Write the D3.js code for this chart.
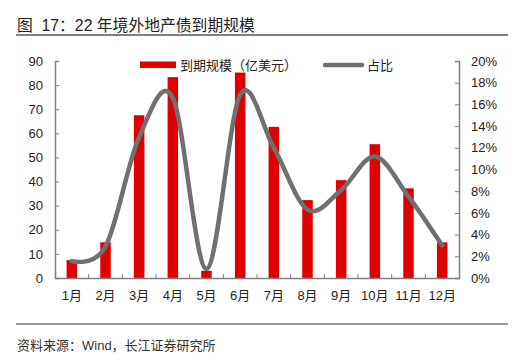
<!DOCTYPE html>
<html><head><meta charset="utf-8">
<script src="https://cdn.jsdelivr.net/npm/d3@7"></script>
<style>body{margin:0;background:#fff}svg{display:block}text{font-family:"Liberation Sans","Noto Sans CJK SC",sans-serif}</style>
</head><body><svg id="c" width="527" height="360"></svg>
<script>
const months = ["1月","2月","3月","4月","5月","6月","7月","8月","9月","10月","11月","12月"];
const volume = [7.4,14.8,67.5,83.3,3.0,85.2,62.7,32.3,40.6,55.5,37.2,14.8];
const ratio = [1.55,2.9,13.0,16.6,0.85,16.9,12.0,6.3,8.1,11.2,7.5,3.0];
const leftTicks = [0,10,20,30,40,50,60,70,80,90];
const rightTicks = [0,2,4,6,8,10,12,14,16,18,20];

const svg = d3.select("#c");
const L=55,R=459,T=61,B=278;
const x = d3.scaleBand().domain(months).range([L,R]);
const yL = d3.scaleLinear().domain([0,90]).range([B,T]);
const yR = d3.scaleLinear().domain([0,20]).range([B,T]);
const axisColor="#808080";
const cjk='"Noto Sans CJK SC",sans-serif';

// title
const title = svg.append("text").attr("y",31).attr("font-size",15.8).attr("fill","#222");
title.append("tspan").attr("x",17).style("font-family",cjk).text("图");
title.append("tspan").attr("x",41.5).text("17：22 年境外地产债到期规模");
svg.append("line").attr("x1",16).attr("x2",508).attr("y1",35).attr("y2",35).attr("stroke","#555").attr("stroke-width",1.5);
svg.append("line").attr("x1",16).attr("x2",508).attr("y1",324).attr("y2",324).attr("stroke","#777").attr("stroke-width",1.5);
svg.append("text").attr("x",17).attr("y",350).attr("font-size",13).attr("fill","#333")
  .text("资料来源：Wind，长江证券研究所");

// bars
const bw = 10.5;
svg.append("g").selectAll("rect").data(volume).join("rect")
  .attr("x",(d,i)=>x(months[i])+x.bandwidth()/2-bw/2)
  .attr("width",bw)
  .attr("y",d=>yL(d)).attr("height",d=>B-yL(d))
  .attr("fill","#e00000");

// axes
const gL = svg.append("g").attr("transform",`translate(${L},0)`)
  .call(d3.axisLeft(yL).tickValues(leftTicks).tickSizeInner(-4).tickSizeOuter(-4).tickPadding(12));
const gR = svg.append("g").attr("transform",`translate(${R},0)`)
  .call(d3.axisRight(yR).tickValues(rightTicks).tickFormat(d=>d+"%").tickSizeInner(-4).tickSizeOuter(-4).tickPadding(12));
const gX = svg.append("g").attr("transform",`translate(0,${B})`)
  .call(d3.axisBottom(x).tickSize(0).tickPadding(13));
svg.append("g").selectAll("line").data(months.slice(1)).join("line")
  .attr("x1",d=>x(d)).attr("x2",d=>x(d)).attr("y1",B).attr("y2",B-4)
  .attr("stroke",axisColor).attr("stroke-width",1);
[gL,gR,gX].forEach(g=>{
  g.selectAll(".domain").attr("stroke",axisColor).attr("stroke-width",1.5);
  g.selectAll(".tick line").attr("stroke",axisColor);
  g.selectAll("text").attr("font-size",13).attr("fill","#222")
    .style("font-family",'"Liberation Sans","Noto Sans CJK SC",sans-serif');
});

// line
const line = d3.line().x((d,i)=>x(months[i])+x.bandwidth()/2).y(d=>yR(d)).curve(d3.curveCardinal.tension(0));
svg.append("path").datum(ratio).attr("d",line).attr("fill","none")
  .attr("stroke","#707070").attr("stroke-width",4.5).attr("stroke-linecap","round");

// legend
const lg = svg.append("g");
lg.append("rect").attr("x",140).attr("y",61.5).attr("width",36).attr("height",6.5).attr("fill","#e00000");
lg.append("text").attr("x",180).attr("y",69.5).attr("font-size",13).attr("fill","#222").style("font-family",cjk).text("到期规模（亿美元）");
lg.append("line").attr("x1",325).attr("x2",362).attr("y1",65).attr("y2",65).attr("stroke","#707070").attr("stroke-width",4.5).attr("stroke-linecap","round");
lg.append("text").attr("x",367).attr("y",69.5).attr("font-size",13).attr("fill","#222").style("font-family",cjk).text("占比");
</script></body></html>
